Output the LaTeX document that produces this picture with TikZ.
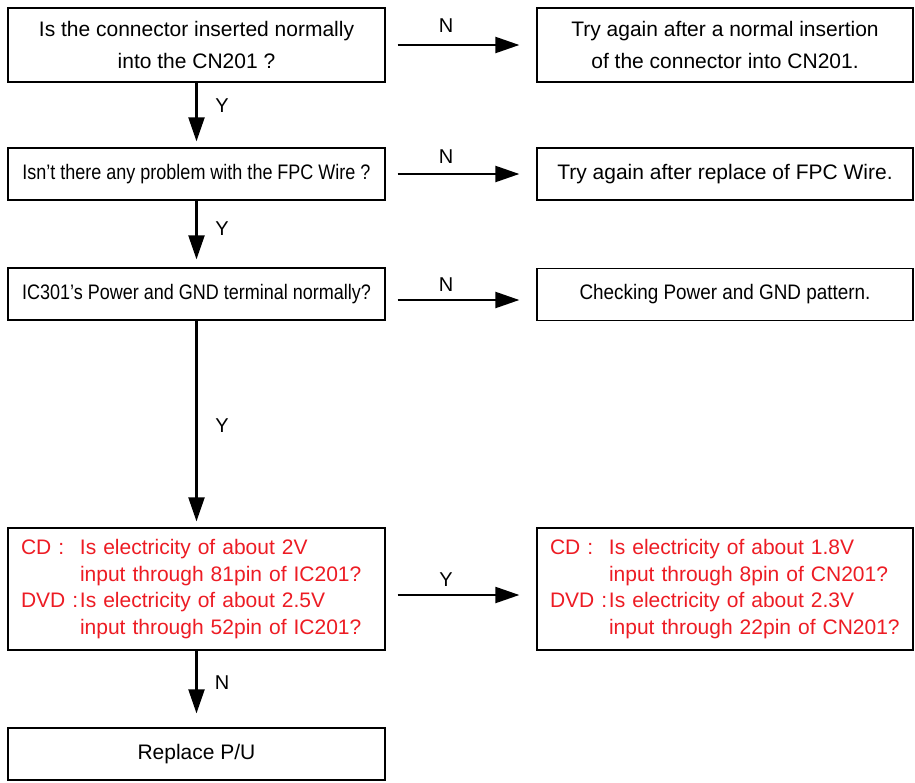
\documentclass[tikz,border=0pt]{standalone}
\usepackage{fontspec}
\usepackage{graphicx}
\setmainfont{Liberation Sans}
\usetikzlibrary{arrows.meta}
\definecolor{flowred}{RGB}{237,28,36}
\begin{document}
\begin{tikzpicture}[x=1pt,y=-1pt,
  box/.style={draw, line width=1.3pt, inner sep=0pt, minimum width=377pt,
    minimum height=#1, align=center, font=\fontsize{21}{32}\selectfont},
  box/.default=52pt,
  rbox/.style={box=#1, minimum width=376pt},
  rbox/.default=52pt,
  redbox/.style={draw, line width=1.3pt, minimum height=122pt, text width=#1,
    inner xsep=13pt, inner ysep=0pt, align=left, text=flowred,
    font=\fontsize{21}{26.7}\selectfont},
  arr/.style={line width=2.2pt, -{Triangle[length=24pt,width=16pt]}},
  lab/.style={font=\fontsize{20}{24}\selectfont, inner sep=0pt}
]
\fill[white] (0,0) rectangle (915,782);
\useasboundingbox (0,0) rectangle (915,782);

% left column
\node[box=74pt] (q1) at (196.5,45) {Is the connector inserted normally\\into the CN201 ?};
\node[box] (q2) at (196.5,174) {\scalebox{0.857}[1]{Isn’t there any problem with the FPC Wire ?}};
\node[box] (q3) at (196.5,294) {\scalebox{0.857}[1]{IC301’s Power and GND terminal normally?}};
\node[redbox=351pt] (q4) at (196.5,589) {\raisebox{-2pt}{\begin{tabular}{@{}p{59pt}@{}l@{}}
CD : & Is electricity of about 2V\\
 & input through 81pin of IC201?\\
DVD : & Is electricity of about 2.5V\\
 & input through 52pin of IC201?
\end{tabular}}};
\node[box] (q5) at (196.5,754) {Replace P/U};

% right column
\node[rbox=74pt] (r1) at (725,45) {Try again after a normal insertion\\of the connector into CN201.};
\node[rbox] (r2) at (725,174) {Try again after replace of FPC Wire.};
\node[rbox] (r3) at (725,294.5) {\scalebox{0.9}[1]{Checking Power and GND pattern.}};
\node[redbox=350pt] (r4) at (725,589) {\raisebox{-2pt}{\begin{tabular}{@{}p{59pt}@{}l@{}}
CD : & Is electricity of about 1.8V\\
 & input through 8pin of CN201?\\
DVD : & Is electricity of about 2.3V\\
 & input through 22pin of CN201?
\end{tabular}}};

% horizontal connectors
\draw[arr, shorten <=12pt, shorten >=17pt] (q1.east) -- (r1.west);
\draw[arr, shorten <=12pt, shorten >=17pt] (q2.east) -- (r2.west);
\draw[arr, shorten <=12pt, shorten >=17pt] ([yshift=-6pt]q3.east) -- ([yshift=-5.5pt]r3.west);
\draw[arr, shorten <=12pt, shorten >=17pt] ([yshift=-6pt]q4.east) -- ([yshift=-6pt]r4.west);

% vertical connectors
\draw[arr, shorten >=6pt] (q1.south) -- (q2.north);
\draw[arr, shorten >=8pt] (q2.south) -- (q3.north);
\draw[arr, shorten >=6pt] (q3.south) -- (q4.north);
\draw[arr, shorten >=14pt] (q4.south) -- (q5.north);

% labels
\node[lab] (n1) at (446,26) {N};
\node[lab] (n2) at (446,157) {N};
\node[lab] (n3) at (446,285) {N};
\node[lab] (y4) at (446,580) {Y};
\node[lab] (y1) at (222,106) {Y};
\node[lab] (y2) at (222,229) {Y};
\node[lab] (y3) at (222,426) {Y};
\node[lab] (n4) at (222,683) {N};
\end{tikzpicture}
\end{document}
